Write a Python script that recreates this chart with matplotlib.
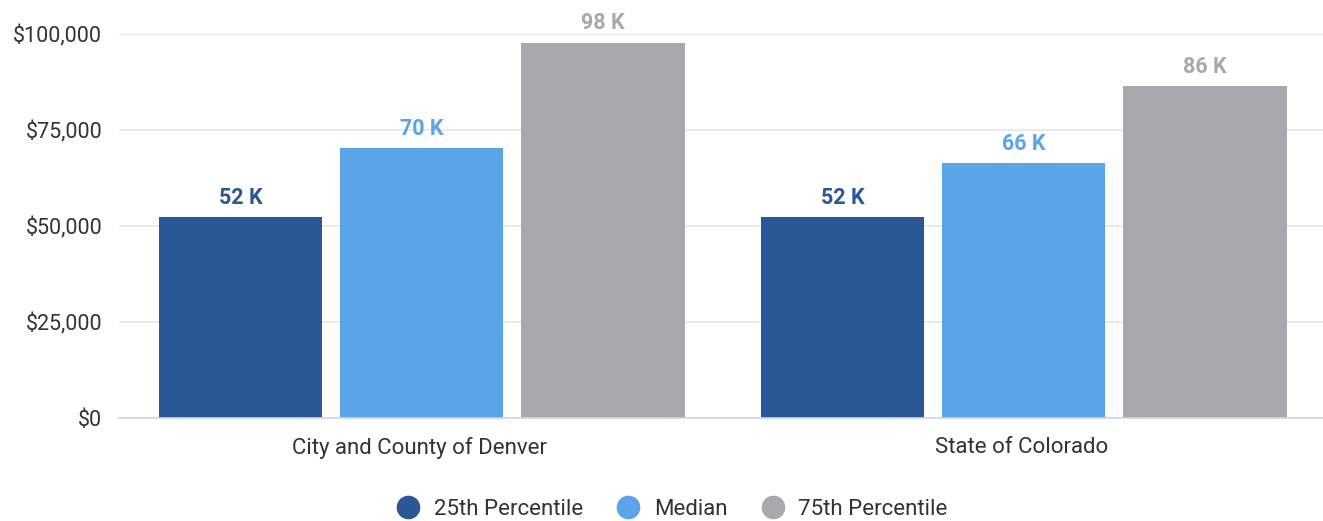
import matplotlib.pyplot as plt
import numpy as np
from matplotlib.lines import Line2D
from matplotlib.ticker import FuncFormatter

plt.rcParams["font.family"] = ["Roboto", "DejaVu Sans"]

categories = ["City and County of Denver", "State of Colorado"]
series_names = ["25th Percentile", "Median", "75th Percentile"]
p25 = [52300, 52300]
median = [70300, 66400]
p75 = [97700, 86500]
colors = ["#2a5795", "#5ba4e8", "#a9a8ad"]

fig = plt.figure(figsize=(13.23, 5.21), dpi=100)
ax = fig.add_axes([119 / 1323, 103 / 521, 1 - 119 / 1323, (418 - 34) / 521])

x = np.arange(len(categories))
width = 0.271
step = 0.301
for i, (vals, color) in enumerate(zip([p25, median, p75], colors)):
    pos = x + (i - 1) * step + 0.003
    ax.bar(pos, vals, width=width, color=color, zorder=2)
    for px, v in zip(pos, vals):
        ax.annotate(f"{round(v / 1000):.0f} K", (px, v), xytext=(0, 6),
                    textcoords="offset points", ha="center", va="bottom",
                    fontsize=15.5, fontweight="bold", color=color)

ax.set_xlim(-0.5, 1.5)
ax.set_ylim(0, 100000)
ax.set_yticks([0, 25000, 50000, 75000, 100000])
ax.yaxis.set_major_formatter(FuncFormatter(lambda v, _: f"${v:,.0f}"))
ax.set_xticks(x)
ax.set_xticklabels(categories, fontsize=16)
ax.tick_params(axis="both", length=0, labelcolor="#333333")
ax.tick_params(axis="y", pad=12, labelsize=15.5)
ax.tick_params(axis="x", pad=14)
ax.grid(axis="y", color="#e6e6e6", linewidth=1.2, zorder=0)
for side in ["top", "right", "left"]:
    ax.spines[side].set_visible(False)
ax.spines["bottom"].set_color("#ccd6eb")
ax.spines["bottom"].set_linewidth(1.2)
ax.spines["bottom"].set_zorder(3)

handles = [Line2D([], [], marker="o", linestyle="", markersize=16,
                  markerfacecolor=c, markeredgecolor=c) for c in colors]
fig.legend(handles, series_names, loc="lower center", ncol=3, frameon=False,
           fontsize=16, bbox_to_anchor=(0.504, -0.037), handletextpad=0.15,
           columnspacing=1.05, labelcolor="#333333")

fig.savefig("out.png", dpi=100)
